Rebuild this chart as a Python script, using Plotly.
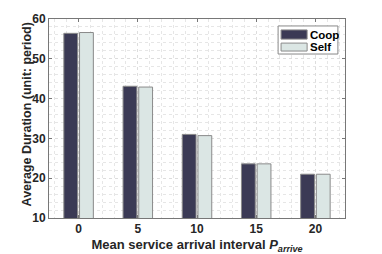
import plotly.graph_objects as go

categories = ["0", "5", "10", "15", "20"]
coop = [56.4, 43.1, 31.0, 23.6, 21.0]
self_vals = [56.6, 42.9, 30.7, 23.6, 21.0]
series_names = ["Coop", "Self"]
series_colors = ["#3b3a55", "#dbe6e4"]
positions = list(range(len(categories)))

fig = go.Figure()
for name, vals, col in zip(series_names, [coop, self_vals], series_colors):
    fig.add_trace(go.Bar(x=positions, y=vals, name=name, base=0,
                         marker=dict(color=col, line=dict(color="#8a8a8a", width=1))))

font_fam = "Liberation Sans, Arial, sans-serif"
fig.update_layout(
    width=382, height=254,
    margin=dict(l=49, r=37, t=19, b=36),
    paper_bgcolor="white", plot_bgcolor="white",
    barmode="group", bargap=0.47, bargroupgap=0.12,
    font=dict(family=font_fam, size=12, color="#262626"),
    showlegend=False,
)

# legend drawn as box with swatches (paper coordinates of the plot area)
fig.add_shape(type="rect", xref="paper", yref="paper", x0=0.774, x1=0.976, y0=0.824, y1=0.965,
              line=dict(color="#888", width=1), fillcolor="white", layer="above")
sw_y = [(0.899, 0.945), (0.839, 0.879)]
for (y0, y1), name, col in zip(sw_y, series_names, series_colors):
    fig.add_shape(type="rect", xref="paper", yref="paper", x0=0.784, x1=0.872, y0=y0, y1=y1,
                  line=dict(color="#8a8a8a", width=1), fillcolor=col, layer="above")
    fig.add_annotation(xref="paper", yref="paper", x=0.878, y=(y0 + y1) / 2, text=f"<b>{name}</b>",
                       showarrow=False, xanchor="left", yanchor="middle", borderpad=0,
                       font=dict(size=11.5, color="black", family=font_fam))

# y-axis title
fig.add_annotation(xref="paper", yref="paper", x=-0.076, y=0.518, text="<b>Average Duration (unit: period)</b>",
                   textangle=-90, showarrow=False, xanchor="center", yanchor="middle", borderpad=0,
                   font=dict(size=12.5, color="#262626", family=font_fam))

fig.update_xaxes(
    range=[-0.5, 4.5], tickmode="array", tickvals=positions, ticktext=[f"<b>{c}</b>" for c in categories],
    showline=True, linecolor="#777", linewidth=1, mirror="ticks",
    ticks="inside", ticklen=3, tickcolor="#777",
    showgrid=True, gridcolor="#dddddd", griddash="dot", gridwidth=1,
    minor=dict(dtick=0.2, showgrid=True, gridcolor="#e6e6e6", griddash="dot", gridwidth=1, tick0=0),
    tickfont=dict(size=12, color="#262626"),
    title=dict(text="<b>Mean service arrival interval <i>P</i><sub><i>arrive</i></sub></b>",
               font=dict(size=13, color="#262626"), standoff=4),
    zeroline=False, automargin=False,
)
fig.update_yaxes(
    range=[10, 60], tickvals=[10, 20, 30, 40, 50, 60], ticktext=[f"<b>{v}</b>" for v in [10, 20, 30, 40, 50, 60]],
    showline=True, linecolor="#777", linewidth=1, mirror="ticks",
    ticks="inside", ticklen=3, tickcolor="#777",
    showgrid=True, gridcolor="#dddddd", griddash="dot", gridwidth=1,
    minor=dict(dtick=2, showgrid=True, gridcolor="#e6e6e6", griddash="dot", gridwidth=1),
    tickfont=dict(size=12, color="#262626"),
    zeroline=False, automargin=False,
)
fig.write_html("out.html", config={"displayModeBar": False},
               post_script="document.body.style.margin='0';document.body.style.overflow='hidden';")
